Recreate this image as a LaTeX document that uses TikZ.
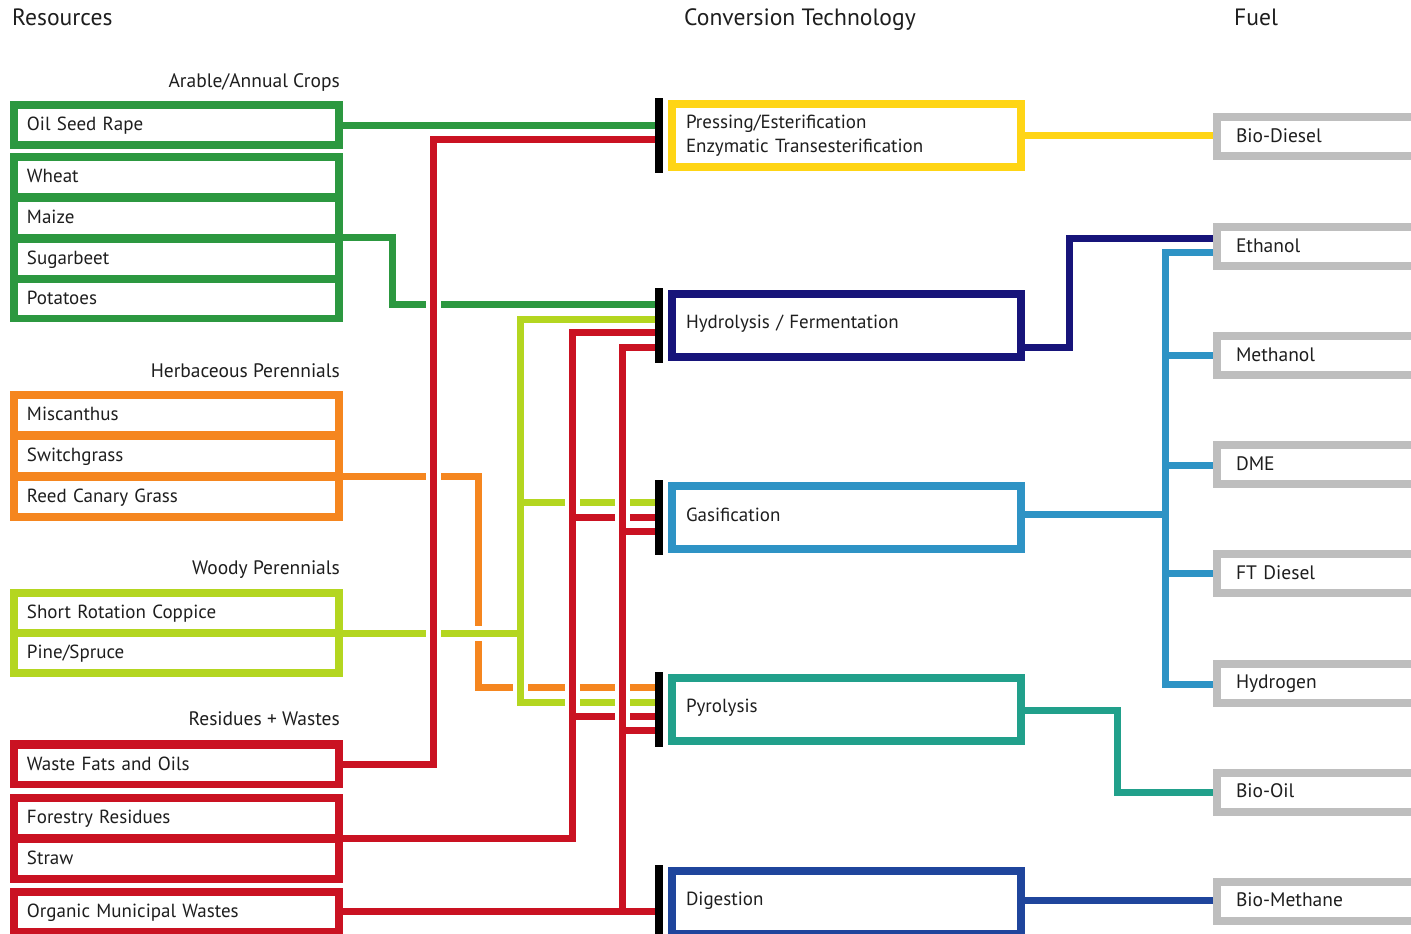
\documentclass[tikz,border=0pt]{standalone}
\usepackage{fontspec}
\setmainfont{PT Sans}
\usetikzlibrary{calc}
\definecolor{cgreen}{HTML}{2C9840}
\definecolor{corange}{HTML}{F5861F}
\definecolor{cgy}{HTML}{B4D620}
\definecolor{cred}{HTML}{CA1222}
\definecolor{cyellow}{HTML}{FFD515}
\definecolor{cnavy}{HTML}{17147A}
\definecolor{clblue}{HTML}{2E93C5}
\definecolor{cteal}{HTML}{21A08B}
\definecolor{cblue}{HTML}{1F459C}
\definecolor{cgray}{HTML}{BEBEBE}
\definecolor{ctext}{HTML}{1E1E1E}
\begin{document}
\begin{tikzpicture}[x=1pt,y=-1pt,
  grp/.style={fill=#1, draw=none, minimum width=333pt, inner sep=0pt},
  item/.style={fill=white, draw=none, minimum width=317pt, minimum height=32pt, inner ysep=0pt, inner xsep=9pt, text width=299pt, align=left, font=\fontsize{19}{21}\selectfont, text=ctext, text height=13.5pt, text depth=2pt},
  conv/.style={draw=#1, line width=8pt, fill=white, minimum height=63pt, inner ysep=0pt, inner xsep=14pt, text width=321pt, align=left, font=\fontsize{19}{23.5}\selectfont, text=ctext},
  one/.style={text height=13.5pt, text depth=6pt},
  fuel/.style={draw=cgray, line width=8pt, fill=white, minimum height=39pt, inner ysep=0pt, inner xsep=19pt, text width=200pt, align=left, anchor=west, font=\fontsize{19.5}{21}\selectfont, text=ctext, text height=13.5pt, text depth=2.5pt},
  bar/.style={fill=black, draw=none, minimum width=8pt, minimum height=75pt, inner sep=0pt},
  conn/.style={line width=7pt, line cap=butt, line join=miter},
  halo/.style={draw=white, line width=15pt, line cap=butt},
  head/.style={anchor=base west, font=\fontsize{23.6}{25}\selectfont, text=ctext, inner sep=0pt},
  cat/.style={anchor=base east, font=\fontsize{19.5}{21}\selectfont, text=ctext, inner sep=0pt}]
\useasboundingbox (0,0) rectangle (1411,934);
\clip (0,0) rectangle (1411,934);
\fill[white] (0,0) rectangle (1411,934);

% headers
\node[head] (hres) at (12,26) {Resources};
\node[head] (hconv) at (684,26) {Conversion Technology};
\node[head] (hfuel) at (1234,26) {Fuel};

% category labels
\node[cat] (cat1) at (340,88) {Arable/Annual Crops};
\node[cat] (cat2) at (340,377) {Herbaceous Perennials};
\node[cat] (cat3) at (340,574) {Woody Perennials};
\node[cat] (cat4) at (340,725) {Residues + Wastes};

% resource groups
\node[grp=cgreen, minimum height=48pt] (g1) at (176.5,125) {};
\node[grp=cgreen, minimum height=169pt] (g2) at (176.5,237.5) {};
\node[grp=corange, minimum height=130pt] (g3) at (176.5,456) {};
\node[grp=cgy, minimum height=88pt] (g4) at (176.5,633) {};
\node[grp=cred, minimum height=48pt] (g5) at (176.5,764) {};
\node[grp=cred, minimum height=89pt] (g6) at (176.5,838.5) {};
\node[grp=cred, minimum height=46pt] (g7) at (176.5,911) {};

\node[item] (osr) at (176.5,125) {Oil Seed Rape};
\node[item] (wheat) at (176.5,177) {Wheat};
\node[item] (maize) at (176.5,218) {Maize};
\node[item] (sugar) at (176.5,259) {Sugarbeet};
\node[item] (potato) at (176.5,299) {Potatoes};
\node[item] (misc) at (176.5,415) {Miscanthus};
\node[item] (switch) at (176.5,456) {Switchgrass};
\node[item] (reed) at (176.5,497) {Reed Canary Grass};
\node[item] (src) at (176.5,613) {Short Rotation Coppice};
\node[item] (pine) at (176.5,653) {Pine/Spruce};
\node[item] (wfo) at (176.5,765) {Waste Fats and Oils};
\node[item] (fres) at (176.5,818) {Forestry Residues};
\node[item] (straw) at (176.5,859) {Straw};
\node[item] (omw) at (176.5,912) {Organic Municipal Wastes};

% conversion bars
\node[bar] (pbar) at (659,135.5) {};
\node[bar] (hbar) at (659,325) {};
\node[bar] (gbar) at (659,517.5) {};
\node[bar] (ybar) at (659,709) {};
\node[bar] (dbar) at (659,902) {};

% bend coordinates
\coordinate (b2) at (392,304);
\coordinate (b3) at (478,687);
\coordinate (v4t) at (520,319);
\coordinate (v4b) at (520,702);
\coordinate (v5) at (433,139);
\coordinate (v6t) at (572,332);
\coordinate (v7t) at (622,347);

% orange
\draw[conn, corange] ($(g3.east)+(0,20)$) -| (b3) -- (b3 -| ybar);
% green-yellow
\draw[halo] (g4.east) -- (g4.east -| v4t);
\draw[halo] (v4t) -- (v4b);
\draw[conn, cgy] (g4.east) -- (g4.east -| v4t);
\draw[conn, cgy] (v4t -| hbar) -- (v4t) -- (v4b) -- (v4b -| ybar);
\draw[conn, cgy] (520,502) -- (gbar |- 0,502);
% green
\draw[conn, cgreen] (g1.east) -- (g1.east -| pbar);
\draw[conn, cgreen] (g2.east) -| (b2) -- (b2 -| hbar);
% red forestry/straw
\draw[halo] (v6t) -- (v6t |- g6.east);
\draw[conn, cred] (g6.east) -| (v6t) -- (v6t -| hbar);
\draw[conn, cred] (572,517) -- (gbar |- 0,517);
\draw[conn, cred] (572,716) -- (ybar |- 0,716);
% red organic municipal
\draw[halo] (v7t) -- (v7t |- g7.east);
\draw[conn, cred] (g7.east) -- (g7.east -| dbar);
\draw[conn, cred] (v7t |- g7.east) -- (v7t) -- (v7t -| hbar);
\draw[conn, cred] (622,531) -- (gbar |- 0,531);
\draw[conn, cred] (622,730) -- (ybar |- 0,730);
% red waste fats
\draw[halo] (v5) -- (v5 |- g5.east);
\draw[conn, cred] (g5.east) -| (v5) -- (v5 -| pbar);

% conversion boxes
\node[conv=cyellow] (press) at (846.5,135.5) {Pressing/Esterification\\Enzymatic Transesterification};
\node[conv=cnavy, one] (hydro) at (846.5,325) {Hydrolysis / Fermentation};
\node[conv=clblue, one] (gasi) at (846.5,517.5) {Gasification};
\node[conv=cteal, one] (pyro) at (846.5,709) {Pyrolysis};
\node[conv=cblue, one] (dig) at (846.5,902) {Digestion};
\node[bar] at (pbar) {};
\node[bar] at (hbar) {};
\node[bar] at (gbar) {};
\node[bar] at (ybar) {};
\node[bar] at (dbar) {};

% fuel boxes
\node[fuel] (biod) at (1213,136.5) {Bio-Diesel};
\node[fuel] (eth) at (1213,246.5) {Ethanol};
\node[fuel] (meth) at (1213,355.5) {Methanol};
\node[fuel] (dme) at (1213,464.5) {DME};
\node[fuel] (ftd) at (1213,573.5) {FT Diesel};
\node[fuel] (hyd) at (1213,683) {Hydrogen};
\node[fuel] (bioo) at (1213,792) {Bio-Oil};
\node[fuel] (biom) at (1213,901) {Bio-Methane};

% right connectors
\coordinate (n1) at (1069,347);
\coordinate (lb) at (1165,514);
\coordinate (t1) at (1117,710);
\draw[conn, cyellow] (press.east |- 0,135) -- (biod.west |- 0,135);
\draw[conn, cnavy] (hydro.east |- n1) -- (n1) |- (eth.west |- 0,238);
\draw[conn, clblue] (gasi.east |- lb) -- (lb);
\draw[conn, clblue] (eth.west |- 0,252) -| (1165,684) -- (hyd.west |- 0,684);
\draw[conn, clblue] (1165,355) -- (meth.west |- 0,355);
\draw[conn, clblue] (1165,465) -- (dme.west |- 0,465);
\draw[conn, clblue] (1165,573) -- (ftd.west |- 0,573);
\draw[conn, cteal] (pyro.east |- t1) -- (t1) |- (bioo.west |- 0,792);
\draw[conn, cblue] (dig.east |- 0,900) -- (biom.west |- 0,900);
\end{tikzpicture}
\end{document}
